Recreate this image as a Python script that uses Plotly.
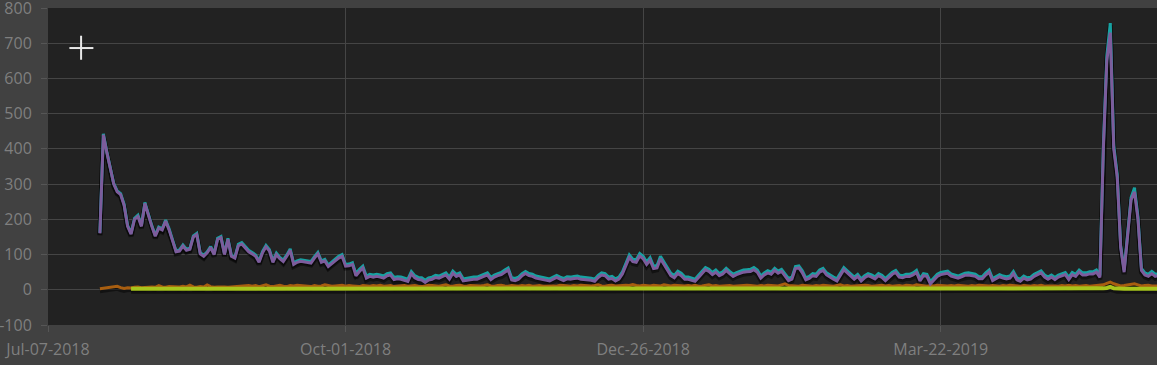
import datetime as dt
import plotly.graph_objects as go

# ---------------- data (daily values) ----------------
start_main = "2018-07-22"   # first day of the teal / purple / orange series
start_yellow = "2018-07-31"  # first day of the yellow-green series

purple = [
    160, 440, 390, 340, 300, 278, 270, 240, 180, 158,
    200, 208, 180, 245, 210, 180, 152, 175, 170, 195,
    170, 140, 108, 110, 124, 112, 115, 150, 157, 102,
    95, 105, 120, 100, 143, 148, 100, 143, 95, 90,
    125, 130, 120, 108, 102, 95, 78, 105, 122, 110,
    78, 100, 88, 80, 95, 112, 72, 78, 81, 80,
    79, 76, 90, 102, 78, 82, 66, 75, 82, 90,
    95, 67, 68, 72, 40, 52, 62, 33, 38, 36,
    38, 36, 33, 40, 42, 29, 31, 30, 27, 24,
    46, 34, 29, 28, 21, 28, 30, 35, 33, 38,
    42, 30, 47, 38, 42, 25, 27, 29, 30, 30,
    34, 38, 42, 29, 36, 40, 43, 50, 56, 28,
    26, 30, 40, 46, 40, 38, 33, 31, 29, 26,
    25, 30, 35, 30, 26, 31, 30, 32, 33, 30,
    29, 29, 27, 24, 35, 42, 40, 30, 32, 25,
    30, 45, 70, 92, 80, 78, 96, 88, 72, 84,
    60, 62, 88, 72, 58, 40, 34, 46, 40, 30,
    30, 27, 24, 35, 46, 57, 52, 43, 50, 40,
    45, 55, 46, 38, 43, 47, 50, 51, 52, 57,
    50, 33, 42, 48, 44, 55, 47, 52, 40, 26,
    30, 60, 62, 48, 28, 32, 40, 38, 50, 55,
    42, 35, 30, 25, 40, 57, 48, 38, 30, 38,
    25, 34, 40, 36, 31, 40, 35, 26, 34, 44,
    49, 36, 34, 38, 38, 42, 49, 25, 40, 38,
    17, 28, 38, 43, 46, 47, 39, 36, 33, 37,
    41, 42, 41, 38, 31, 31, 42, 50, 26, 32,
    37, 33, 31, 33, 46, 28, 24, 33, 28, 30,
    38, 43, 48, 36, 30, 36, 29, 36, 40, 43,
    29, 43, 38, 50, 42, 42, 45, 45, 50, 35,
    400, 650, 730, 400, 320, 120, 50, 150, 255, 278,
    200, 55, 42, 38, 46, 38, 40,
]

teal = [
    162, 443, 392, 342, 302, 281, 273, 243, 183, 161,
    203, 212, 183, 248, 213, 183, 155, 178, 173, 198,
    173, 143, 111, 113, 127, 115, 118, 153, 160, 105,
    98, 108, 123, 103, 146, 151, 103, 146, 98, 93,
    129, 134, 124, 112, 106, 99, 82, 109, 126, 114,
    82, 104, 92, 84, 99, 116, 76, 82, 85, 84,
    83, 80, 94, 106, 82, 86, 70, 80, 87, 95,
    100, 72, 73, 77, 46, 58, 67, 39, 44, 42,
    44, 42, 39, 46, 48, 35, 37, 36, 33, 30,
    52, 40, 35, 34, 27, 34, 36, 41, 39, 44,
    48, 36, 53, 44, 48, 31, 33, 35, 36, 36,
    40, 44, 48, 35, 42, 46, 49, 56, 62, 34,
    32, 36, 46, 52, 46, 44, 39, 37, 35, 32,
    31, 36, 41, 36, 32, 37, 36, 38, 39, 36,
    35, 35, 33, 30, 41, 48, 46, 36, 38, 31,
    36, 51, 77, 99, 87, 85, 103, 95, 79, 91,
    67, 69, 95, 79, 65, 47, 41, 53, 47, 37,
    36, 33, 30, 41, 52, 63, 58, 49, 56, 46,
    51, 61, 52, 44, 49, 53, 56, 57, 58, 63,
    56, 39, 48, 54, 50, 61, 53, 58, 46, 32,
    36, 66, 68, 54, 34, 38, 46, 44, 56, 61,
    48, 41, 36, 31, 46, 63, 54, 44, 36, 44,
    31, 40, 46, 42, 37, 46, 41, 32, 40, 50,
    55, 42, 40, 44, 44, 48, 55, 31, 46, 44,
    23, 34, 44, 49, 52, 53, 45, 42, 39, 43,
    47, 48, 47, 44, 37, 37, 48, 56, 32, 38,
    43, 39, 37, 39, 52, 34, 30, 39, 34, 36,
    44, 49, 54, 42, 36, 42, 35, 42, 46, 49,
    35, 49, 44, 56, 48, 48, 51, 51, 56, 41,
    410, 665, 757, 410, 328, 126, 56, 156, 262, 290,
    208, 61, 48, 44, 52, 44, 46,
]

orange = [
    3, 4, 6, 7, 8, 10, 6, 4, 6, 5,
    7, 8, 6, 7, 9, 8, 7, 12, 8, 7,
    9, 8, 7, 8, 10, 8, 13, 8, 7, 9,
    8, 14, 9, 7, 8, 9, 8, 7, 8, 9,
    10, 9, 11, 12, 10, 12, 9, 11, 14, 10,
    9, 11, 13, 10, 9, 12, 11, 13, 12, 10,
    11, 9, 12, 10, 11, 14, 12, 10, 11, 12,
    13, 10, 12, 11, 10, 9, 12, 11, 10, 12,
    11, 13, 10, 11, 12, 9, 10, 11, 12, 10,
    11, 12, 10, 9, 11, 13, 12, 11, 10, 12,
    14, 11, 10, 12, 13, 11, 10, 12, 11, 10,
    11, 12, 14, 11, 10, 12, 13, 11, 10, 12,
    11, 10, 12, 11, 13, 10, 11, 12, 10, 11,
    12, 11, 10, 13, 12, 11, 10, 12, 11, 13,
    12, 10, 11, 12, 14, 11, 10, 12, 13, 11,
    12, 14, 13, 12, 15, 12, 11, 13, 12, 11,
    13, 12, 11, 14, 12, 11, 13, 12, 10, 11,
    12, 11, 13, 10, 11, 12, 14, 11, 12, 10,
    11, 13, 12, 10, 11, 12, 11, 13, 12, 11,
    10, 12, 11, 13, 12, 10, 11, 14, 17, 12,
    11, 12, 10, 13, 12, 11, 10, 12, 11, 13,
    12, 11, 10, 12, 14, 11, 12, 10, 11, 12,
    11, 13, 12, 10, 11, 12, 13, 11, 12, 10,
    11, 12, 10, 13, 12, 11, 14, 12, 11, 10,
    12, 11, 13, 12, 10, 11, 12, 11, 13, 12,
    11, 10, 12, 11, 13, 12, 10, 11, 12, 11,
    10, 12, 11, 13, 12, 11, 10, 12, 11, 10,
    12, 11, 13, 10, 11, 12, 11, 10, 12, 11,
    13, 11, 12, 10, 11, 12, 10, 11, 12, 11,
    14, 18, 22, 17, 14, 11, 12, 14, 16, 17,
    14, 11, 12, 13, 11, 12, 11,
]

yellow = [
    3, 3, 2, 3, 3, 2, 3, 3, 3, 2,
    3, 3, 2, 3, 3, 3, 2, 3, 3, 2,
    3, 3, 3, 2, 3, 3, 2, 3, 3, 3,
    2, 3, 3, 2, 3, 3, 3, 2, 3, 3,
    3, 2, 3, 3, 2, 3, 3, 3, 2, 3,
    3, 2, 3, 3, 3, 2, 3, 3, 2, 3,
    3, 3, 2, 3, 3, 2, 3, 3, 3, 2,
    3, 3, 2, 3, 3, 3, 2, 3, 3, 2,
    3, 3, 3, 2, 3, 3, 2, 3, 3, 3,
    2, 3, 3, 2, 3, 3, 3, 2, 3, 3,
    3, 2, 3, 3, 2, 3, 3, 3, 2, 3,
    3, 2, 3, 3, 3, 2, 3, 3, 2, 3,
    3, 3, 2, 3, 3, 2, 3, 3, 3, 2,
    3, 3, 2, 3, 3, 3, 2, 3, 3, 2,
    3, 3, 3, 2, 3, 3, 2, 3, 3, 3,
    2, 3, 3, 2, 3, 3, 3, 2, 3, 3,
    3, 2, 3, 3, 2, 3, 3, 3, 2, 3,
    3, 2, 3, 3, 3, 2, 3, 3, 2, 3,
    3, 3, 2, 3, 3, 2, 3, 3, 3, 2,
    3, 3, 2, 3, 3, 3, 2, 3, 3, 2,
    3, 3, 3, 2, 3, 3, 2, 3, 3, 3,
    2, 3, 3, 2, 3, 3, 3, 2, 3, 3,
    3, 2, 3, 3, 2, 3, 3, 3, 2, 3,
    3, 2, 3, 3, 3, 2, 3, 3, 2, 3,
    3, 3, 2, 3, 3, 2, 3, 3, 3, 2,
    3, 3, 2, 3, 3, 3, 2, 3, 3, 2,
    3, 3, 3, 2, 3, 3, 2, 3, 3, 3,
    2, 3, 3, 2, 3, 3, 3, 2, 3, 4,
    3, 4, 5, 8, 4, 3, 3, 3, 3, 3,
    3, 3, 3, 3, 3, 3, 3, 3,
]

tick_dates = ["2018-07-07", "2018-10-01", "2018-12-26", "2019-03-22"]
tick_labels = ["Jul-07-2018", "Oct-01-2018", "Dec-26-2018", "Mar-22-2019"]
y_ticks = [-100, 0, 100, 200, 300, 400, 500, 600, 700, 800]
y_tick_labels = ["-100", "0", "100", "200", "300", "400", "500", "600", "700", "800"]
x_range = ["2018-07-07", "2019-05-23 12:00"]
y_range = [-100, 800]


def days(start, n):
    d0 = dt.date.fromisoformat(start)
    return [d0 + dt.timedelta(days=i) for i in range(n)]


x_main = days(start_main, len(purple))
x_yel = days(start_yellow, len(yellow))

series = [
    (x_main, orange, "#a85e10", 3),
    (x_yel, yellow, "#a7c51c", 4),
    (x_main, teal, "#17a2a2", 3),
    (x_main, purple, "#7c5c9c", 3),
]

fig = go.Figure()

# empty trace so the base axes (grid, ticks, labels) are drawn
fig.add_trace(go.Scatter(x=[], y=[], mode="lines", showlegend=False, hoverinfo="skip"))

# shadows (same data on an axis shifted by ~2px)
for xs, ys, col, w in series:
    fig.add_trace(go.Scatter(x=xs, y=ys, mode="lines", yaxis="y2",
                             line=dict(color="rgba(0,0,0,0.45)", width=w + 2),
                             hoverinfo="skip", showlegend=False))
for xs, ys, col, w in series:
    fig.add_trace(go.Scatter(x=xs, y=ys, mode="lines", yaxis="y3",
                             line=dict(color=col, width=w),
                             showlegend=False))

W, H = 1157, 365
L, R, T, B = 47.6, 0, 8.3, 40

shift = 2.0 * (y_range[1] - y_range[0]) / (H - T - B)

def px_x(p):
    return (p - L) / (W - L - R)

def px_y(p):
    return (H - B - p) / (H - T - B)

cursor = [
    dict(type="line", xref="paper", yref="paper",
         x0=px_x(69), x1=px_x(93), y0=px_y(48.3), y1=px_y(48.3),
         line=dict(color="#e8e8e8", width=2)),
    dict(type="line", xref="paper", yref="paper",
         x0=px_x(80.7), x1=px_x(80.7), y0=px_y(36), y1=px_y(60),
         line=dict(color="#e8e8e8", width=2)),
]

fig.update_layout(
    width=W, height=H,
    margin=dict(l=L, r=R, t=T, b=B, pad=0, autoexpand=False),
    paper_bgcolor="#414141",
    plot_bgcolor="#222222",
    font=dict(family="Open Sans, DejaVu Sans, sans-serif", size=16, color="#7f7f7f"),
    showlegend=False,
    shapes=cursor,
    xaxis=dict(
        type="date", range=x_range, automargin=False,
        tickvals=tick_dates, ticktext=tick_labels,
        showgrid=True, gridcolor="#454545", gridwidth=1,
        ticks="outside", ticklen=6, tickcolor="#565656",
        showline=False, zeroline=False,
        ticklabelstandoff=4, ticklabeloverflow="allow",
    ),
    yaxis=dict(
        range=y_range, tickvals=y_ticks, ticktext=y_tick_labels,
        autorange=False, automargin=False,
        showgrid=True, gridcolor="#454545", gridwidth=1,
        ticks="outside", ticklen=6, tickcolor="#565656",
        zeroline=False, showline=False,
        ticklabelstandoff=6, ticklabeloverflow="allow",
    ),
    yaxis2=dict(range=[y_range[0] + shift, y_range[1] + shift], overlaying="y",
                visible=False, showgrid=False),
    yaxis3=dict(range=y_range, overlaying="y", visible=False, showgrid=False),
)

fig.write_html("out.html")
